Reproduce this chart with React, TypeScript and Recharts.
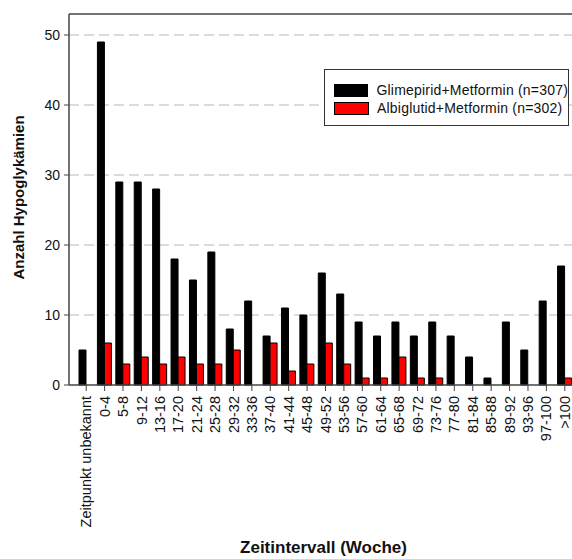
import React from 'react';
import {
    BarChart,
    Bar,
    XAxis,
    YAxis,
    CartesianGrid,
    ReferenceLine,
} from 'recharts';

const categories = [
    'Zeitpunkt unbekannt', '0-4', '5-8', '9-12', '13-16', '17-20', '21-24', '25-28',
    '29-32', '33-36', '37-40', '41-44', '45-48', '49-52', '53-56', '57-60', '61-64',
    '65-68', '69-72', '73-76', '77-80', '81-84', '85-88', '89-92', '93-96', '97-100', '>100',
];
const glimepirid = [5, 49, 29, 29, 28, 18, 15, 19, 8, 12, 7, 11, 10, 16, 13, 9, 7, 9, 7, 9, 7, 4, 1, 9, 5, 12, 17];
const albiglutid = [0, 6, 3, 4, 3, 4, 3, 3, 5, 0, 6, 2, 3, 6, 3, 1, 1, 4, 1, 1, 0, 0, 0, 0, 0, 0, 1];
const yTicks = [0, 10, 20, 30, 40, 50];

const seriesNames = {
    glimepirid: 'Glimepirid+Metformin (n=307)',
    albiglutid: 'Albiglutid+Metformin (n=302)',
};

const data = categories.map((c, i) => ({
    category: c,
    glimepirid: glimepirid[i],
    albiglutid: albiglutid[i],
}));

const FONT = 'Arial, "Liberation Sans", Helvetica, sans-serif';

const XTick = (props: any) => {
    const { x, y, payload } = props;
    return (
        <text
            transform={`translate(${x},${y}) rotate(-90)`}
            textAnchor="end"
            dy="0.35em"
            fontSize={14.5}
            fontFamily={FONT}
            fill="#111"
        >
            {payload.value}
        </text>
    );
};

// legend drawn as overlay so it doesn't eat plot space
const LegendBox = () => (
    <div
        style={{
            position: 'absolute',
            left: 324,
            top: 69,
            border: '1px solid #333',
            width: 245,
            height: 57,
            boxSizing: 'border-box',
            background: '#fff',
            fontFamily: FONT,
            fontSize: 14,
            color: '#111',
            padding: '11px 0 0 9px',
        }}
    >
        {[
            { color: '#000', label: seriesNames.glimepirid },
            { color: '#ff0000', label: seriesNames.albiglutid },
        ].map((e) => (
            <div key={e.label} style={{ display: 'flex', alignItems: 'center', height: 18 }}>
                <span
                    style={{
                        display: 'inline-block',
                        width: 33,
                        height: 11,
                        background: e.color,
                        border: '1px solid #000',
                        marginRight: 8,
                    }}
                />
                <span style={{ whiteSpace: 'nowrap', letterSpacing: 0.2 }}>{e.label}</span>
            </div>
        ))}
    </div>
);

const YLabel = (props: any) => {
    const { viewBox } = props;
    const cy = viewBox.y + viewBox.height / 2 - 2;
    return (
        <text
            transform={`translate(24,${cy}) rotate(-90)`}
            textAnchor="middle"
            fontSize={15}
            fontWeight="bold"
            fontFamily={FONT}
            fill="#111"
        >
            Anzahl Hypoglykämien
        </text>
    );
};

export default function App() {
    return (
        <div style={{ position: 'absolute', left: 0, top: 0, width: 572, height: 559, overflow: 'hidden', background: '#fff' }}>
            <BarChart
                width={590}
                height={559}
                data={data}
                margin={{ top: 14, right: 12, left: 0, bottom: 0 }}
                barGap={0}
                barCategoryGap={0}
            >
                <CartesianGrid
                    vertical={false}
                    horizontalValues={[10, 20, 30, 40, 50]}
                    stroke="#cfcfcf"
                    strokeDasharray="10 5"
                    strokeWidth={1.5}
                />
                <ReferenceLine y={53} stroke="#444" strokeWidth={1.5} />
                <XAxis
                    dataKey="category"
                    interval={0}
                    height={174}
                    padding={{ left: 8, right: 4 }}
                    tick={<XTick />}
                    tickSize={6}
                    tickMargin={5}
                    axisLine={{ stroke: '#444', strokeWidth: 1.5 }}
                    tickLine={{ stroke: '#444' }}
                    label={{
                        value: 'Zeitintervall (Woche)',
                        position: 'insideBottom',
                        offset: 6,
                        fontSize: 17,
                        fontWeight: 'bold',
                        fontFamily: FONT,
                        fill: '#111',
                    }}
                />
                <YAxis
                    width={69}
                    domain={[0, 53]}
                    ticks={yTicks}
                    tickSize={5}
                    tickMargin={4}
                    tick={{ fontSize: 14, fontFamily: FONT, fill: '#111' }}
                    axisLine={{ stroke: '#444', strokeWidth: 1.5 }}
                    tickLine={{ stroke: '#444' }}
                    label={<YLabel />}
                />
                <Bar
                    dataKey="glimepirid"
                    name={seriesNames.glimepirid}
                    fill="#000"
                    stroke="#000"
                    barSize={7}
                    isAnimationActive={false}
                />
                <Bar
                    dataKey="albiglutid"
                    name={seriesNames.albiglutid}
                    fill="#ff0000"
                    stroke="#000"
                    barSize={7}
                    isAnimationActive={false}
                />
            </BarChart>
            <LegendBox />
        </div>
    );
}
